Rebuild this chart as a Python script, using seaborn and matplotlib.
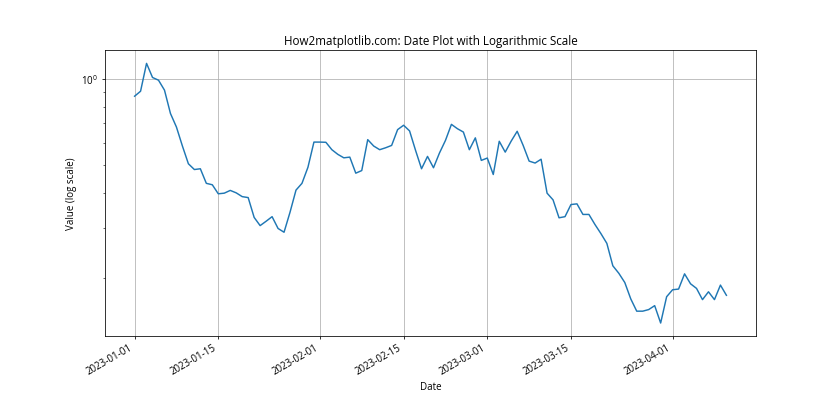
import matplotlib
matplotlib.use("Agg")
import matplotlib.pyplot as plt
import seaborn as sns
import pandas as pd

plt.rcParams['font.family'] = ['Open Sans', 'DejaVu Sans']
plt.rcParams['font.size'] = 10

start_date = "2023-01-01"
n_days = 100
values = [
    0.873, 0.909, 1.139, 1.016, 0.994, 0.917, 0.759, 0.680, 0.583, 0.505,
    0.482, 0.485, 0.431, 0.426, 0.396, 0.398, 0.407, 0.399, 0.387, 0.384,
    0.327, 0.306, 0.317, 0.329, 0.299, 0.290, 0.341, 0.408, 0.431, 0.491,
    0.602, 0.602, 0.601, 0.566, 0.545, 0.530, 0.533, 0.468, 0.478, 0.614,
    0.583, 0.566, 0.575, 0.586, 0.666, 0.690, 0.659, 0.563, 0.485, 0.536,
    0.489, 0.551, 0.610, 0.695, 0.671, 0.653, 0.566, 0.623, 0.519, 0.529,
    0.463, 0.606, 0.555, 0.607, 0.657, 0.586, 0.516, 0.508, 0.524, 0.398,
    0.377, 0.326, 0.329, 0.363, 0.365, 0.335, 0.335, 0.309, 0.287, 0.265,
    0.221, 0.208, 0.193, 0.169, 0.153, 0.153, 0.155, 0.160, 0.139, 0.172,
    0.182, 0.183, 0.207, 0.191, 0.184, 0.168, 0.179, 0.168, 0.189, 0.174,
]

dates = pd.date_range(start_date, periods=n_days, freq="D")
df = pd.DataFrame({"Date": dates, "Value": values})

fig, ax = plt.subplots(figsize=(12, 6), dpi=70)
sns.lineplot(data=df, x="Date", y="Value", ax=ax, color="#1f77b4", linewidth=1.5)
ax.set_yscale("log")
ax.set_title("How2matplotlib.com: Date Plot with Logarithmic Scale")
ax.set_xlabel("Date")
ax.set_ylabel("Value (log scale)")
ax.grid(True, color="#b0b0b0", linewidth=0.8)
fig.autofmt_xdate()
fig.savefig("out.png", dpi=70)
